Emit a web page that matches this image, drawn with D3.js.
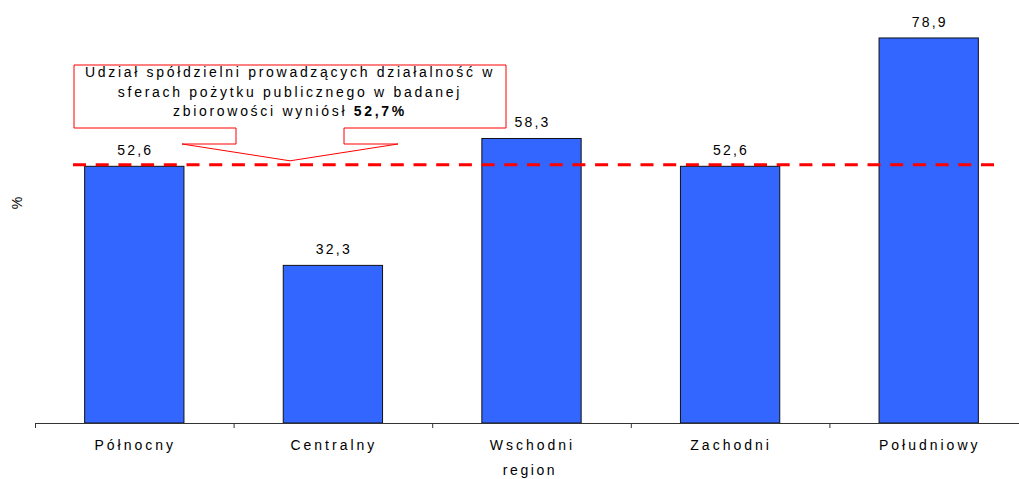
<!DOCTYPE html>
<html>
<head>
<meta charset="utf-8">
<script src="https://cdn.jsdelivr.net/npm/d3@7"></script>
<style>
  body { margin: 0; background: #fff; }
  text { font-family: "Liberation Sans", Arial, sans-serif; fill: #000; }
</style>
</head>
<body>
<div id="chart"></div>
<script>
var regions = ['Północny', 'Centralny', 'Wschodni', 'Zachodni', 'Południowy'];
var shares = [52.6, 32.3, 58.3, 52.6, 78.9];
var overall = 52.7;
var noteLines = ['Udział spółdzielni prowadzących działalność w',
                 'sferach pożytku publicznego w badanej',
                 'zbiorowości wyniósł '];
var noteValue = '52,7%';

var w = 1019, h = 479;
var left = 35, base = 423;

var svg = d3.select('#chart').append('svg')
    .attr('width', w)
    .attr('height', h);

var x = d3.scaleBand()
    .domain(regions)
    .range([left, left + 5 * 198.6])
    .paddingInner(0.5)
    .paddingOuter(0.25);

var y = d3.scaleLinear()
    .domain([0, 80])
    .range([base, base - 80 * 4.88]);

var fmt = function (v) { return d3.format('.1f')(v).replace('.', ','); };

// bars
svg.selectAll('.bar')
    .data(shares)
    .enter()
    .append('rect')
    .attr('class', 'bar')
    .attr('x', function (d, i) { return x(regions[i]); })
    .attr('y', function (d) { return y(d); })
    .attr('width', x.bandwidth())
    .attr('height', function (d) { return base - y(d); })
    .style('fill', '#3366ff')
    .style('stroke', '#111')
    .style('stroke-width', 1);

// value labels
svg.selectAll('.val')
    .data(shares)
    .enter()
    .append('text')
    .attr('class', 'val')
    .attr('x', function (d, i) { return x(regions[i]) + x.bandwidth() / 2 + 1; })
    .attr('y', function (d) { return y(d) - 11; })
    .attr('text-anchor', 'middle')
    .attr('letter-spacing', 2.2)
    .style('font-size', '14px')
    .text(fmt);

// x axis with ticks between categories
var step = x.step();
var axis = svg.append('g');
axis.append('line')
    .attr('x1', left).attr('x2', w)
    .attr('y1', base + 0.5).attr('y2', base + 0.5)
    .style('stroke', '#333');
axis.selectAll('.tick')
    .data(d3.range(regions.length + 1))
    .enter()
    .append('line')
    .attr('x1', function (i) { return left + i * step + 0.5; })
    .attr('x2', function (i) { return left + i * step + 0.5; })
    .attr('y1', base).attr('y2', base + 5)
    .style('stroke', '#333');
axis.selectAll('.cat')
    .data(regions)
    .enter()
    .append('text')
    .attr('x', function (d) { return x(d) + x.bandwidth() / 2 + 1; })
    .attr('y', base + 27)
    .attr('text-anchor', 'middle')
    .attr('letter-spacing', 3)
    .style('font-size', '14px')
    .text(function (d) { return d; });

svg.append('text')
    .attr('x', 530)
    .attr('y', 475)
    .attr('text-anchor', 'middle')
    .attr('letter-spacing', 2.6)
    .style('font-size', '14px')
    .text('region');

svg.append('text')
    .attr('transform', 'translate(22,203) rotate(-90)')
    .attr('text-anchor', 'middle')
    .style('font-size', '14px')
    .text('%');

// reference line
svg.append('line')
    .attr('x1', 73).attr('x2', 1003)
    .attr('y1', y(overall) - 1).attr('y2', y(overall) - 1)
    .style('stroke', '#ff0000')
    .style('stroke-width', 3)
    .style('stroke-dasharray', '13,9.7');

// callout
var cx = 290;
svg.append('path')
    .attr('d', 'M74,65 H506 V128 H344 V144 H398 L' + cx + ',' + (y(overall) - 5) +
               ' L182,144 H236 V128 H74 Z')
    .style('fill', '#fff')
    .style('stroke', '#ff0000')
    .style('stroke-width', 1);

var note = svg.append('g').style('font-size', '14px');
note.selectAll('text')
    .data(noteLines)
    .enter()
    .append('text')
    .attr('x', cx)
    .attr('y', function (d, i) { return 77 + i * 19.5; })
    .attr('text-anchor', 'middle')
    .attr('letter-spacing', 2.7)
    .each(function (d, i) {
        var t = d3.select(this);
        t.append('tspan').text(d);
        if (i === noteLines.length - 1) {
            t.append('tspan').style('font-weight', 'bold').text(noteValue);
        }
    });
</script>
</body>
</html>
